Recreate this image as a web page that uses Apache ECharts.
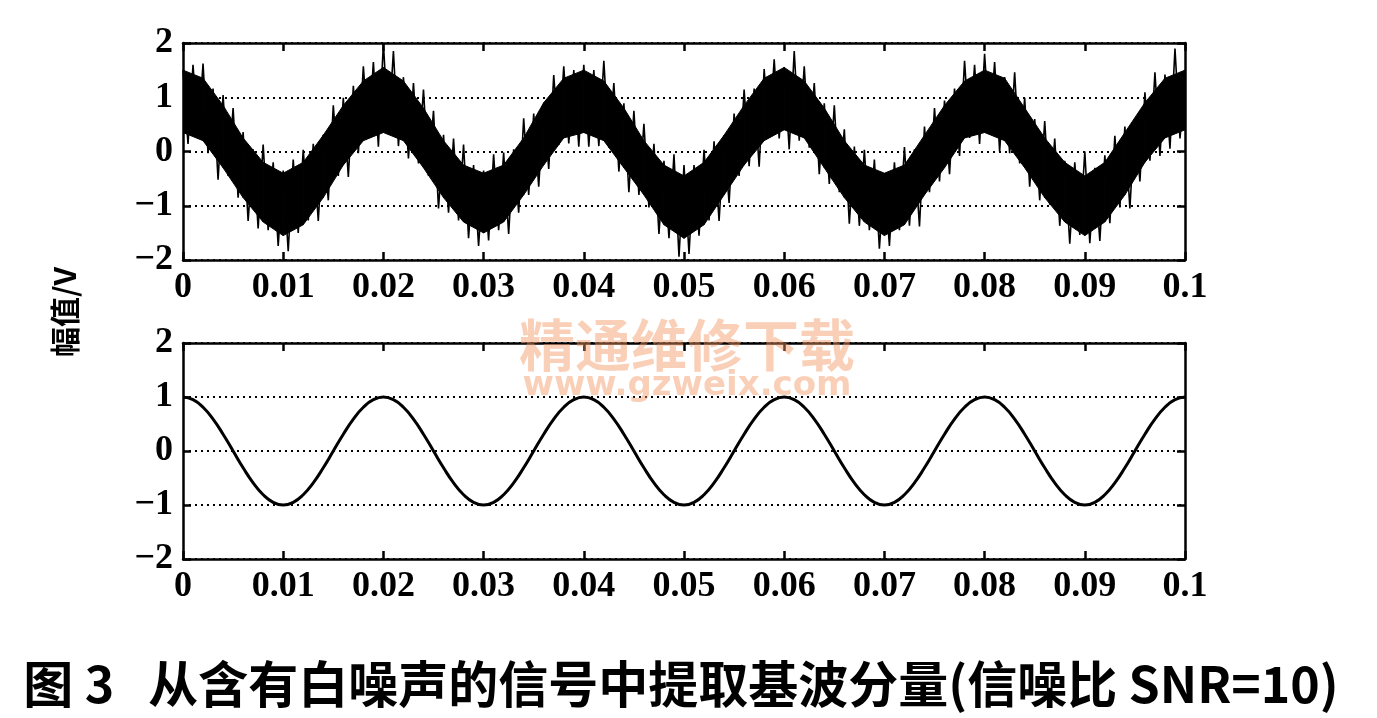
<!DOCTYPE html>
<html><head><meta charset="utf-8">
<script src="https://cdn.jsdelivr.net/npm/echarts@6/dist/echarts.min.js"></script>
<style>html,body{margin:0;padding:0;background:#fff}#c{width:1377px;height:718px}</style>
</head><body><div id="c"></div>
<script>
// ---------- data ----------
const xTickValues = [0, 0.01, 0.02, 0.03, 0.04, 0.05, 0.06, 0.07, 0.08, 0.09, 0.1];
const xTickLabels = ['0', '0.01', '0.02', '0.03', '0.04', '0.05', '0.06', '0.07', '0.08', '0.09', '0.1'];
const yTickValues = [-2, -1, 0, 1, 2];
const yTickLabels = ['\u22122', '\u22121', '0', '1', '2'];

// noisy signal, one sample every 0.0005 s
const noisyStep = 0.0005;
const noisySignal = [
 1.5, 0.14, 1.6, 0.25, 1.62, -0.03, 1.16, -0.52, 1.04, -0.45,
 0.8, -0.85, 0.36, -1.28, 0.04, -1.42, 0.13, -1.45, -0.2, -1.74,
 -0.35, -1.84, -0.15, -1.5, 0.03, -1.27, 0.14, -1.28, 0.31, -0.9,
 0.85, -0.45, 0.99, -0.47, 1.21, -0.03, 1.57, 0.25, 1.65, 0.09,
 2.0, 0.34, 1.85, 0.1, 1.37, -0.13, 1.26, -0.22, 1.14, -0.45,
 0.75, -1.05, 0.31, -1.13, 0.24, -1.27, 0.13, -1.6, -0.25, -1.74,
 -0.35, -1.64, -0.05, -1.45, -0.02, -1.52, 0.04, -1.13, 0.61, -0.8,
 0.7, -0.65, 0.89, -0.32, 1.41, 0.12, 1.57, 0.15, 1.5, 0.09,
 1.6, 0.09, 1.5, 0.1, 1.67, 0.07, 1.26, -0.37, 0.89, -0.75,
 0.75, -0.8, 0.51, -1.03, 0.14, -1.52, -0.17, -1.6, -0.05, -1.94,
 -0.25, -1.89, -0.25, -1.55, 0.03, -1.27, 0.19, -1.28, 0.26, -0.95,
 0.7, -0.45, 1.14, -0.27, 1.16, -0.28, 1.52, 0.25, 1.7, 0.24,
 1.55, 0.04, 1.85, 0.2, 1.57, 0.07, 1.26, -0.42, 0.89, -0.6,
 0.85, -0.75, 0.41, -1.33, 0.09, -1.37, 0.03, -1.45, -0.15, -1.79,
 -0.4, -1.74, -0.2, -1.45, 0.08, -1.37, 0.04, -1.38, 0.46, -0.75,
 0.8, -0.55, 0.94, -0.42, 1.16, -0.08, 1.67, 0.25, 1.6, 0.14,
 1.8, 0.34, 1.65, 0.0, 1.37, -0.03, 1.46, -0.22, 0.99, -0.65,
 0.6, -0.9, 0.56, -0.98, 0.24, -1.37, -0.17, -1.7, -0.2, -1.54,
 0.0, -1.69, -0.3, -1.65, -0.07, -1.32, 0.29, -1.03, 0.46, -1.05,
 0.6, -0.55, 1.09, -0.17, 1.46, -0.08, 1.42, 0.05, 1.9, 0.24,
 1.35
];

// dense core of the noisy band, one sample every 0.002 s
const coreStep = 0.002;
const coreUpper = [
 1.5, 1.35, 0.85, 0.25, -0.2, -0.4, -0.2, 0.3, 0.85, 1.3,
 1.55, 1.3, 0.8, 0.2, -0.25, -0.4, -0.25, 0.25, 0.9, 1.35,
 1.5, 1.3, 0.8, 0.2, -0.25, -0.45, -0.2, 0.3, 0.85, 1.35,
 1.55, 1.3, 0.8, 0.2, -0.25, -0.4, -0.25, 0.3, 0.85, 1.3,
 1.5, 1.35, 0.8, 0.25, -0.2, -0.45, -0.2, 0.35, 0.9, 1.35,
 1.5
];
const coreLower = [
 0.35, 0.2, -0.3, -0.85, -1.3, -1.55, -1.35, -0.85, -0.25, 0.2,
 0.35, 0.2, -0.3, -0.85, -1.3, -1.5, -1.3, -0.8, -0.25, 0.25,
 0.35, 0.2, -0.3, -0.8, -1.35, -1.6, -1.35, -0.8, -0.25, 0.2,
 0.4, 0.25, -0.3, -0.85, -1.3, -1.55, -1.35, -0.8, -0.3, 0.25,
 0.35, 0.2, -0.3, -0.85, -1.3, -1.55, -1.3, -0.8, -0.2, 0.25,
 0.4
];

// extracted fundamental, one sample every 0.001 s
const cleanStep = 0.001;
const fundamental = [
 1, 0.95, 0.81, 0.59, 0.31, 0, -0.31, -0.59, -0.81, -0.95,
 -1, -0.95, -0.81, -0.59, -0.31, 0, 0.31, 0.59, 0.81, 0.95,
 1, 0.95, 0.81, 0.59, 0.31, 0, -0.31, -0.59, -0.81, -0.95,
 -1, -0.95, -0.81, -0.59, -0.31, 0, 0.31, 0.59, 0.81, 0.95,
 1, 0.95, 0.81, 0.59, 0.31, 0, -0.31, -0.59, -0.81, -0.95,
 -1, -0.95, -0.81, -0.59, -0.31, 0, 0.31, 0.59, 0.81, 0.95,
 1, 0.95, 0.81, 0.59, 0.31, 0, -0.31, -0.59, -0.81, -0.95,
 -1, -0.95, -0.81, -0.59, -0.31, 0, 0.31, 0.59, 0.81, 0.95,
 1, 0.95, 0.81, 0.59, 0.31, 0, -0.31, -0.59, -0.81, -0.95,
 -1, -0.95, -0.81, -0.59, -0.31, 0, 0.31, 0.59, 0.81, 0.95,
 1
];

const yLabelText = '幅值/V';
const titleText = '图 3   从含有白噪声的信号中提取基波分量(信噪比 SNR=10)';
const watermark1 = '精通维修下载';
const watermark2 = 'www.gzweix.com';

// ---------- build ----------
const pairs = (arr, step) => arr.map((v, i) => [+(i * step).toFixed(5), v]);
// band segments: [t, lower, upper, tNext, lowerNext, upperNext]
const bandRows = [];
for (let i = 0; i < coreUpper.length - 1; i++) {
  bandRows.push([+(i * coreStep).toFixed(5), coreLower[i], coreUpper[i],
                 +((i + 1) * coreStep).toFixed(5), coreLower[i + 1], coreUpper[i + 1]]);
}

const tickFont = { fontFamily: '"Liberation Serif", "Times New Roman", serif', fontSize: 36, fontWeight: 'bold', color: '#000' };
const xFmt = v => { const i = xTickValues.findIndex(t => Math.abs(t - v) < 1e-9); return i >= 0 ? xTickLabels[i] : ''; };
const yFmt = v => { const i = yTickValues.indexOf(Math.round(v)); return i >= 0 ? yTickLabels[i] : ''; };

const lineBlack = { color: '#000', width: 2.5 };
function xAxes(grid) {
  return [
    { gridIndex: grid, type: 'value', min: 0, max: 0.1, interval: 0.01, position: 'bottom',
      axisLine: { show: true, onZero: false, lineStyle: lineBlack },
      axisTick: { show: true, inside: true, length: 8, lineStyle: lineBlack },
      axisLabel: Object.assign({ formatter: xFmt, margin: 10 }, tickFont),
      splitLine: { show: false } },
    { gridIndex: grid, type: 'value', min: 0, max: 0.1, interval: 0.01, position: 'top',
      axisLine: { show: true, onZero: false, lineStyle: lineBlack },
      axisTick: { show: true, inside: true, length: 8, lineStyle: lineBlack },
      axisLabel: { show: false }, splitLine: { show: false } }
  ];
}
function yAxes(grid) {
  return [
    { gridIndex: grid, type: 'value', min: -2, max: 2, interval: 1, position: 'left',
      axisLine: { show: true, onZero: false, lineStyle: lineBlack },
      axisTick: { show: true, inside: true, length: 8, lineStyle: lineBlack },
      axisLabel: Object.assign({ formatter: yFmt, margin: 10 }, tickFont),
      splitLine: { show: true, lineStyle: { color: '#000', type: [2, 4], width: 1.8 } } },
    { gridIndex: grid, type: 'value', min: -2, max: 2, interval: 1, position: 'right',
      axisLine: { show: true, onZero: false, lineStyle: lineBlack },
      axisTick: { show: true, inside: true, length: 8, lineStyle: lineBlack },
      axisLabel: { show: false }, splitLine: { show: false } }
  ];
}

const option = {
  backgroundColor: '#fff',
  animation: false,
  grid: [
    { left: 183, top: 43, width: 1002, height: 217 },
    { left: 183, top: 343, width: 1002, height: 216 }
  ],
  xAxis: [...xAxes(0), ...xAxes(1)],
  yAxis: [...yAxes(0), ...yAxes(1)],
  series: [
    { type: 'custom', xAxisIndex: 0, yAxisIndex: 0, data: bandRows, silent: true, clip: true,
      encode: { x: [0, 3], y: [1, 2, 4, 5] },
      renderItem: (params, api) => {
        const p1 = api.coord([api.value(0), api.value(1)]);
        const p2 = api.coord([api.value(0), api.value(2)]);
        const p3 = api.coord([api.value(3), api.value(5)]);
        const p4 = api.coord([api.value(3), api.value(4)]);
        return { type: 'polygon', shape: { points: [p1, p2, p3, p4] },
                 style: { fill: '#000', stroke: '#000', lineWidth: 1 } };
      } },
    { type: 'line', xAxisIndex: 0, yAxisIndex: 0, data: pairs(noisySignal, noisyStep),
      symbol: 'none', lineStyle: { color: '#000', width: 1.6 }, silent: true },
    { type: 'line', xAxisIndex: 2, yAxisIndex: 2, data: pairs(fundamental, cleanStep),
      symbol: 'none', smooth: true, lineStyle: { color: '#000', width: 3 }, silent: true }
  ],
  graphic: [
    { type: 'text', x: 65, y: 312, rotation: Math.PI / 2,
      style: { text: yLabelText, font: 'bold 30px "Noto Sans CJK SC", sans-serif', fill: '#000', align: 'center', verticalAlign: 'middle' } },
    { type: 'text', x: 681, y: 684,
      style: { text: titleText, font: 'bold 50px "Noto Sans CJK SC", sans-serif', fill: '#000', align: 'center', verticalAlign: 'middle' } },
    { type: 'text', x: 687, y: 345, z: 100,
      style: { text: watermark1, font: 'bold 56px "Noto Sans CJK SC", sans-serif', fill: 'rgba(242,150,95,0.45)', align: 'center', verticalAlign: 'middle' } },
    { type: 'text', x: 687, y: 386, z: 100,
      style: { text: watermark2, font: 'bold 34px "DejaVu Sans", sans-serif', fill: 'rgba(242,150,95,0.45)', align: 'center', verticalAlign: 'middle' } }
  ]
};
echarts.init(document.getElementById('c')).setOption(option);
</script>
</body></html>
